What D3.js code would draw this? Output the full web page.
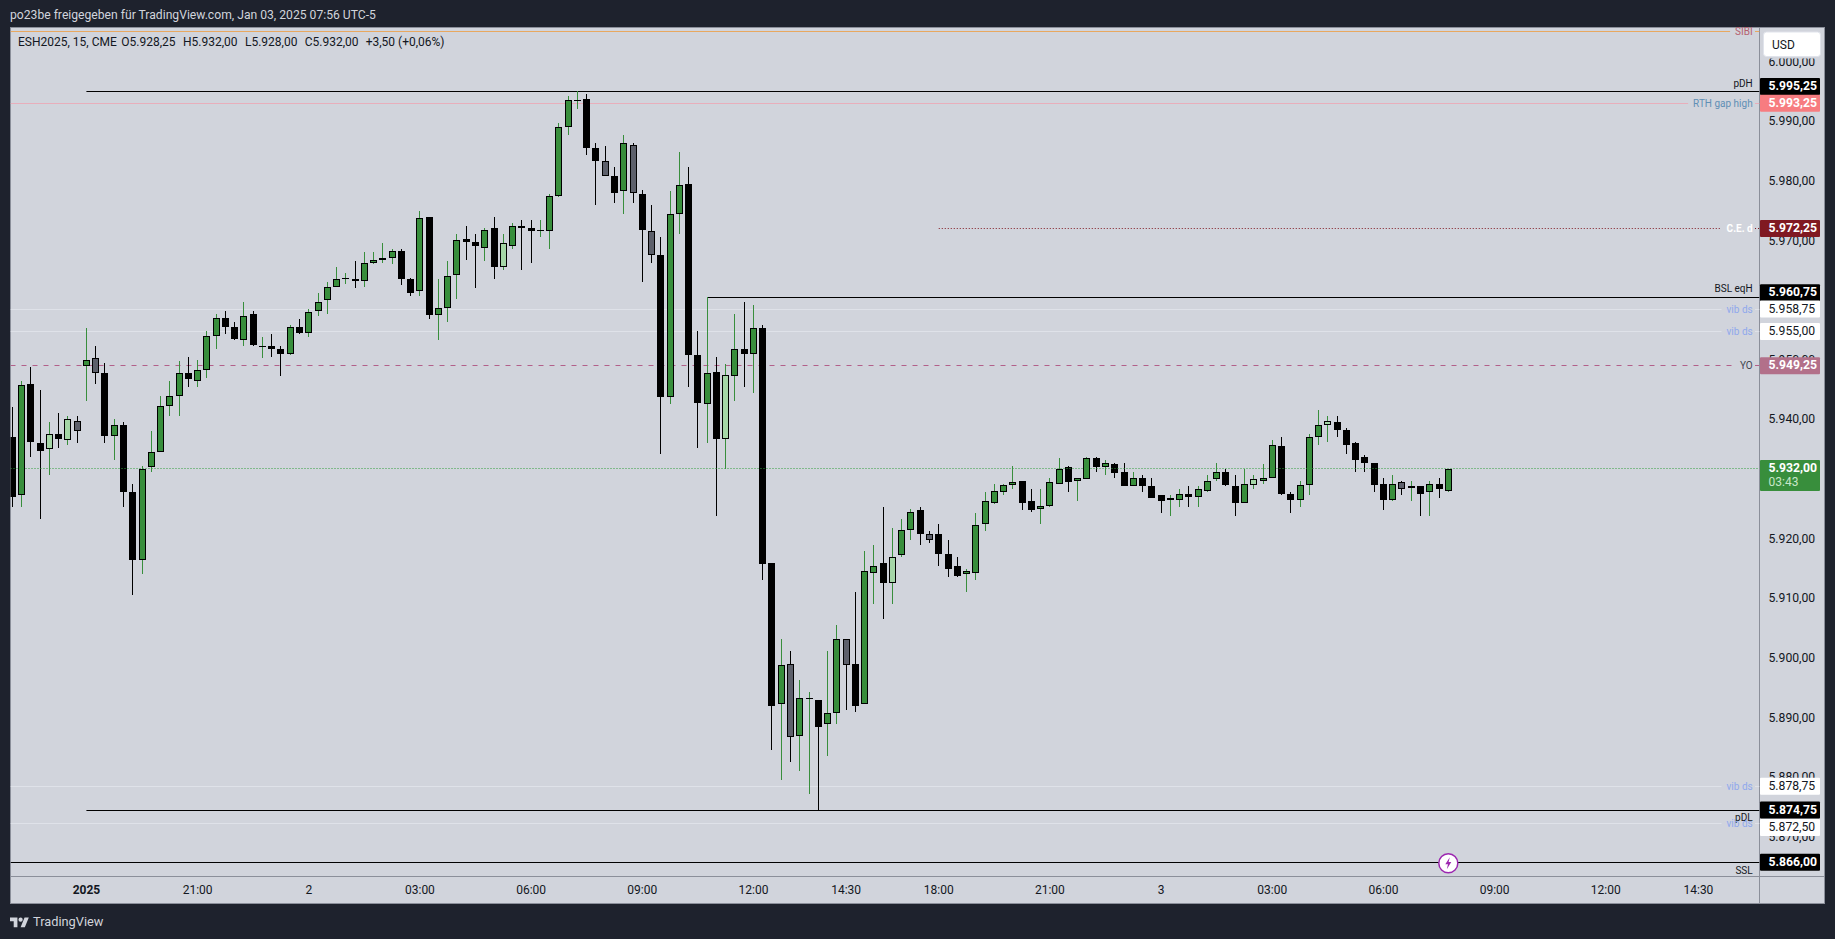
<!DOCTYPE html>
<html><head><meta charset="utf-8">
<script src="https://cdn.jsdelivr.net/npm/d3@7"></script>
<style>html,body{margin:0;padding:0;background:#1e222d;overflow:hidden}svg{display:block}text{font-family:Roboto,"Noto Sans",sans-serif}</style>
</head><body><svg id="c" width="1835" height="939"></svg>
<script>
// ---------- data ----------
const title = "po23be freigegeben für TradingView.com, Jan 03, 2025 07:56 UTC-5";
const legendParts = ["ESH2025, 15, CME","O5.928,25","H5.932,00","L5.928,00","C5.932,00","+3,50 (+0,06%)"];
const opens = [
5937.25,5927.5,5946.25,5936.25,5935.25,5937.75,5936.75,5940,5949.25,5950.5,
5948,5937.5,5939.25,5928,5916.75,5932.25,5934.75,5942.5,5944.25,5948,
5946.75,5948.5,5954.25,5957.25,5955.75,5953.5,5958,5952.5,5952.5,5952,
5951.25,5955.75,5954.75,5958.5,5960.25,5962.5,5964,5963.75,5963.5,5966.5,
5967,5967.25,5968.5,5963.75,5961.75,5974.25,5957.75,5959,5964.5,5970.5,
5970,5969,5972.25,5965.75,5969.25,5972.75,5972.25,5972,5971.75,5977.75,
5989.25,5993.75,5994,5985.75,5983.5,5981,5978.5,5986.25,5978,5971.75,
5967.75,5944,5974.75,5979.75,5951,5942.75,5948.25,5937,5947.5,5952,
5951.25,5955.5,5916.25,5892.5,5899.25,5887.25,5893.5,5893.25,5889.25,5891,
5903.5,5899.25,5892.5,5914.5,5916.25,5912.75,5917.5,5921.75,5925,5921,
5921,5917.75,5915.75,5914.25,5914.5,5922.75,5926.25,5928,5929.25,5930,
5926.5,5925.25,5925.75,5929.5,5932.25,5930,5930.25,5933.75,5932.25,5932.75,
5931.5,5929,5930.5,5929,5927.5,5926.75,5926.75,5927.75,5927.25,5928.25,
5930.25,5931.5,5929,5926.25,5929.25,5930,5930.5,5935.75,5927.75,5926.75,
5929.25,5937.25,5939.25,5939.75,5938.5,5936.25,5934,5933,5929.5,5926.75,
5929.75,5928.75,5929,5928,5929.5,5928.25];
const highs = [
5942.25,5946.75,5949,5945.25,5939.75,5941.25,5940.75,5940.75,5955.5,5952.5,
5949.75,5940.25,5939.75,5929.5,5932.5,5938.25,5944.25,5946.75,5950,5950.75,
5950.25,5955,5958,5958.5,5956.5,5960,5958.5,5954,5954.5,5952.5,
5956,5957,5958.75,5961.5,5963.25,5965.75,5964.75,5966.75,5968.25,5968.25,
5969.75,5968.75,5968.75,5964,5975.25,5974.25,5963.75,5966.75,5971.25,5972.75,
5971.25,5972.25,5974.25,5971.25,5973.25,5973.75,5973.75,5973.75,5978,5990,
5994.5,5995.25,5994.75,5986.5,5986,5982.5,5988,5986.5,5978.75,5976.25,
5970.75,5978.5,5985,5982.5,5955,5960.75,5950.75,5949.5,5958,5960,
5959.5,5956,5916.25,5903.5,5901.5,5896.5,5894.5,5893.25,5901.5,5905.75,
5903.5,5911.25,5918.25,5919.25,5925.5,5922,5923.5,5925.25,5925.5,5921.5,
5922.75,5920,5917.25,5915.25,5924.5,5928,5929.5,5929.5,5932.5,5930,
5928.5,5928.5,5930.5,5933.75,5932.5,5930.5,5934,5934,5933.5,5933,
5933,5931.5,5931,5930.5,5927.5,5927.5,5928.5,5929,5929,5931,
5933,5932,5931,5932,5931,5932.75,5936.75,5937.25,5928,5930,
5937.75,5941.75,5940.75,5940.75,5938.75,5936.5,5934.25,5933,5930.5,5931,
5930,5930,5929,5930,5930.5,5932];
const lows = [
5925.5,5925.5,5934,5923.5,5931,5935.5,5936,5936.25,5943.25,5946.25,
5936.25,5933.5,5925.5,5910.75,5914.25,5931.5,5934.75,5940.75,5940.75,5945.75,
5945.75,5947.25,5952,5954.5,5953.5,5952.5,5952.5,5950.5,5950.75,5947.5,
5951,5954.5,5954,5957.5,5958,5962.5,5963,5962.25,5962.5,5966.25,
5966.5,5966.25,5962.75,5961,5961,5957,5953.5,5956.5,5960.5,5967,
5962.25,5966.75,5963.75,5965.25,5968.75,5965.25,5966.5,5970.75,5968.75,5977.5,
5988,5992.25,5984.5,5976.25,5981,5976.5,5974.75,5976.5,5963.25,5966.5,
5934.5,5942.75,5971.25,5945.75,5935.5,5936.25,5924,5932,5943.25,5945.75,
5944.75,5913.25,5884.75,5879.75,5882.75,5881.25,5877.5,5874.75,5883.75,5889.25,
5891.5,5891.25,5892.5,5909.25,5906.75,5909.25,5917.25,5920,5919.25,5919.5,
5915.75,5913.75,5913.75,5911.25,5913.25,5921.5,5926,5927.5,5928.5,5925,
5924.75,5922.75,5925.5,5929.5,5928,5926.5,5930.25,5931.5,5931,5930.5,
5929,5929,5928,5927,5924.5,5924,5925.5,5925.5,5925.5,5928,
5930,5929,5924,5926.25,5928.5,5929.5,5930.5,5927.5,5924.5,5925.5,
5927.5,5936,5936.5,5937.25,5934.5,5931.5,5931.5,5928,5925,5926.5,
5927.5,5926.5,5924,5924,5927,5928];
const closes = [
5927.25,5946,5936.5,5935,5937.75,5937,5940.25,5938.25,5950.25,5948,
5937.5,5939.25,5928,5916.75,5932,5934.75,5942.5,5944.25,5948,5947,
5948.5,5954.25,5957.25,5955.75,5953.75,5957.5,5952.75,5952.5,5952,5951.25,
5955.75,5954.75,5958.25,5960,5962.5,5963.75,5964,5963.5,5966.5,5967,
5967.25,5968.5,5963.75,5961.5,5974,5957.75,5959,5964.25,5970.25,5970,
5969.25,5972,5965.75,5969.75,5972.75,5972.25,5971.75,5972,5977.75,5989.25,
5993.75,5993.75,5985.75,5983.5,5981,5978.25,5986.5,5978.25,5972,5967.75,
5944,5974.75,5979.5,5951,5943,5948,5937,5947.75,5952,5951.25,
5955.5,5916,5892.25,5899,5887,5893.5,5893.5,5888.75,5891,5903.5,
5899,5892.25,5914.75,5915.75,5912.75,5917.25,5921.75,5924.75,5921,5920,
5917.75,5915.25,5914,5914.75,5922.5,5926.5,5928.25,5929.25,5929.75,5926.25,
5925,5925.75,5929.75,5932,5929.75,5930.5,5933.75,5932.25,5933,5931.25,
5929,5930.5,5929,5927,5926.5,5927,5927.75,5927.25,5928.5,5930,
5931.5,5929.25,5926.25,5929.5,5930.25,5930.5,5936,5927.75,5926.75,5929.25,
5937.25,5939.25,5940,5938.5,5936,5933.5,5933,5929.25,5926.75,5929.5,
5928.5,5929,5927.75,5929.5,5928.5,5932];
const lightBars = [4,6,53,77,95,134,142];
const grayBars = [7,9,64,67,69,84,90,99,150];
const timeLabels = ["2025","21:00","2","03:00","06:00","09:00","12:00","14:30","18:00","21:00","3","03:00","06:00","09:00","12:00","14:30"];
const timeBars = [8,20,32,44,56,68,80,90,100,112,124,136,148,160,172,182];
const boldTimeLabels = ["2025"];
const priceTicks = [5870,5880,5890,5900,5910,5920,5940,5950,5970,5980,5990,6000];
const levelNames = ["SIBI","pDH","RTH gap high","C.E. d","BSL eqH","vib ds","vib ds","YO","vib ds","pDL","vib ds","SSL"];
const levelPrices = [6005.25,5995.25,5993.25,5972.25,5960.75,5958.75,5955,5949.25,5878.75,5874.75,5872.5,5866];
const levelStartBars = [null,8,null,100,75,null,null,null,null,8,null,null];
const lastPrice = 5932;
const countdown = "03:43";

// ---------- styling (not data) ----------
const st = {
 "SIBI":{line:"#e8a860",w:1,label:"#b5616f"},
 "pDH":{line:"#000",w:1,label:"#131722",pos:-8,full:true,tag:"#000",tc:"#fff"},
 "RTH gap high":{line:"#e8aebb",w:1,label:"#5f8fb5",tag:"#f77c80",tc:"#fff"},
 "C.E. d":{line:"#801922",w:1,dash:"1 2",label:"#fff",bold:true,tag:"#801922",tc:"#fff"},
 "BSL eqH":{line:"#000",w:1,label:"#131722",pos:-9,full:true,tag:"#000",tc:"#fff"},
 "vib ds":{line:"#dfe2e9",w:1,label:"#8fa8ec",tag:"#fff",tc:"#131722"},
 "YO":{line:"#b2608a",w:1,dash:"5 6",label:"#434651",tag:"#b2708a",tc:"#fff"},
 "pDL":{line:"#000",w:1,label:"#131722",pos:7,full:true,tag:"#000",tc:"#fff"},
 "SSL":{line:"#000",w:1,label:"#131722",pos:8,full:true,tag:"#000",tc:"#fff"}
};
const C={bg:"#1e222d",pane:"#d1d4dc",border:"#8b8f9a",up:"#388e3c",light:"#a5d6a7",gray:"#5d606b",down:"#000"};
const L=10.5,R=1759.5,T=27.5,B=876,AB=903.5,RR=1824.5;

const svg=d3.select("#c");
const x=d3.scaleLinear().domain([0,155]).range([12.3,1448.3]);
const y=d3.scaleLinear().domain([5866,5995.25]).range([862.3,91.3]);
const cx=i=>Math.floor(x(i))+0.5;
const locale=d3.formatLocale({decimal:",",thousands:".",grouping:[3],currency:["","$"]});
const fmt=locale.format(",.2f");

svg.append("rect").attr("width",1835).attr("height",939).attr("fill",C.bg);
svg.append("rect").attr("x",L).attr("y",T).attr("width",RR-L).attr("height",AB-T).attr("fill",C.pane).attr("stroke",C.border).attr("stroke-width",1);
svg.append("defs").append("clipPath").attr("id","pl").append("rect").attr("x",L).attr("y",T).attr("width",R-L).attr("height",B-T);

// header
svg.append("text").attr("x",10).attr("y",18.5).attr("fill","#d1d4dc").attr("font-size",12.15).text(title);
const legendX=[18,121.3,183,245,304.7,365.7];
svg.selectAll("text.lg").data(legendParts).join("text").attr("class","lg").attr("x",(d,i)=>legendX[i]).attr("y",46).attr("fill","#131722").attr("font-size",12).text(d=>d);

// axes
const yAxis=d3.axisRight(y).tickValues(priceTicks).tickFormat(fmt).tickSize(0).tickPadding(0);
const gy=svg.append("g").attr("transform","translate(1768.5,-1.8)").call(yAxis);
gy.select(".domain").remove();
gy.selectAll("text").attr("font-size",12.2).attr("fill","#131722").attr("font-family","Roboto,sans-serif");
const gx=svg.append("g");
gx.selectAll("text").data(timeLabels).join("text").attr("x",(d,i)=>x(timeBars[i])).attr("y",894).attr("text-anchor","middle").attr("font-size",12).attr("fill","#131722").attr("font-weight",d=>boldTimeLabels.includes(d)?700:400).text(d=>d);
svg.append("line").attr("x1",L).attr("x2",RR).attr("y1",B+.5).attr("y2",B+.5).attr("stroke",C.border);
svg.append("line").attr("x1",R).attr("x2",R).attr("y1",T).attr("y2",AB).attr("stroke",C.border);

// level lines + labels
const plot=svg.append("g").attr("clip-path","url(#pl)");
const levels=levelNames.map((n,i)=>({n,p:levelPrices[i],s:levelStartBars[i],st:st[n]}));
const lg=svg.append("g");
levels.forEach(d=>{
  const yy=Math.floor(y(d.p))+.5, ls=d.st;
  const t=lg.append("text").attr("x",1752.7).attr("y",yy+(ls.pos||0)+3.2).attr("text-anchor","end").attr("font-size",10).attr("fill",ls.label).attr("font-weight",ls.bold?700:400).text(d.n);
  const w=t.node().getComputedTextLength();
  const x0=d.s==null?L:x(d.s);
  const seg=ls.full?[[x0,R]]:[[x0,1752.7-w-5],[1755,R]];
  seg.forEach(s=>plot.append("line").attr("x1",s[0]).attr("x2",s[1]).attr("y1",yy).attr("y2",yy).attr("stroke",ls.line).attr("stroke-width",ls.w).attr("stroke-dasharray",ls.dash||null));
});

// candles
const bars=opens.map((o,i)=>({i,o,h:highs[i],l:lows[i],c:closes[i],up:closes[i]>=o}));
const fillOf=d=>lightBars.includes(d.i)?C.light:grayBars.includes(d.i)?C.gray:d.up?C.up:C.down;
const cg=plot.append("g").attr("shape-rendering","crispEdges");
cg.selectAll("rect.w").data(bars).join("rect").attr("class","w")
 .attr("x",d=>cx(d.i)-.5).attr("width",1)
 .attr("y",d=>Math.round(y(d.h))).attr("height",d=>Math.max(1,Math.round(y(d.l))-Math.round(y(d.h))))
 .attr("fill",d=>d.up?C.up:C.down);
const topY=d=>Math.round(y(Math.max(d.o,d.c))),botY=d=>Math.round(y(Math.min(d.o,d.c)));
cg.selectAll("rect.b").data(bars).join("rect").attr("class","b")
 .attr("x",d=>cx(d.i)-3.5).attr("width",7)
 .attr("y",topY).attr("height",d=>Math.max(1,botY(d)-topY(d))).attr("fill","#000");
cg.selectAll("rect.f").data(bars.filter(d=>botY(d)-topY(d)>2&&fillOf(d)!==C.down)).join("rect").attr("class","f")
 .attr("x",d=>cx(d.i)-2.5).attr("width",5)
 .attr("y",d=>topY(d)+1).attr("height",d=>botY(d)-topY(d)-2).attr("fill",fillOf);

// last price line
plot.append("line").attr("x1",L).attr("x2",R).attr("y1",Math.floor(y(lastPrice))+.5).attr("y2",Math.floor(y(lastPrice))+.5).attr("stroke","#2e9e3a").attr("stroke-dasharray","1 2");

// price tags
const tg=svg.append("g");
const tag=(p,cy,fill,tc,bold)=>{
  tg.append("rect").attr("x",1760).attr("y",cy-8.5).attr("width",60).attr("height",17).attr("rx",1).attr("fill",fill);
  tg.append("text").attr("x",1768.5).attr("y",cy+3.6).attr("font-size",12.2).attr("font-weight",bold?700:400).attr("fill",tc).text(fmt(p));
};
const tagShift={5995.25:-4.9,5960.75:-4.4,5872.5:3.9};
levels.filter(d=>d.st.tag).forEach(d=>tag(d.p,y(d.p)+(tagShift[d.p]||0),d.st.tag,d.st.tc,d.st.tc==="#fff"));
tg.append("rect").attr("x",1760).attr("y",y(lastPrice)-8.5).attr("width",60).attr("height",31).attr("rx",1).attr("fill",C.up);
tg.append("text").attr("x",1768.5).attr("y",y(lastPrice)+3.8).attr("font-size",12.2).attr("font-weight",700).attr("fill","#fff").text(fmt(lastPrice));
tg.append("text").attr("x",1768.5).attr("y",y(lastPrice)+17.5).attr("font-size",12).attr("fill","#c8e6c9").text(countdown);

// USD box
svg.append("rect").attr("x",1761).attr("y",29).attr("width",62).attr("height",29.5).attr("fill",C.pane);
svg.append("rect").attr("x",1763.5).attr("y",32).attr("width",57).attr("height",24.5).attr("rx",3).attr("fill","#fff").attr("stroke","#e0e3eb");
svg.append("text").attr("x",1772).attr("y",49).attr("font-size",12).attr("fill","#131722").text("USD");

// lightning badge
const badge=svg.append("g").attr("transform",`translate(${x(155)},${y(5866)+1})`);
badge.append("circle").attr("r",9.5).attr("fill","#fff").attr("stroke","#9c27b0").attr("stroke-width",1.5);
badge.append("path").attr("d","M1.5,-6 L-3,1 L-0.3,1 L-1.5,6 L3,-1.2 L0.3,-1.2 Z").attr("fill","#9c27b0");

// footer
const lg2=svg.append("g").attr("transform","translate(10,915.5) scale(0.53)").attr("fill","#d1d4dc");
lg2.append("path").attr("d","M14 22H7V11H0V4h14v18zM28 22h-8l7.5-18h8L28 22z");
lg2.append("circle").attr("cx",20).attr("cy",8).attr("r",4);
svg.append("text").attr("x",33).attr("y",925.5).attr("font-size",12.8).attr("fill","#d1d4dc").text("TradingView");
</script></body></html>
